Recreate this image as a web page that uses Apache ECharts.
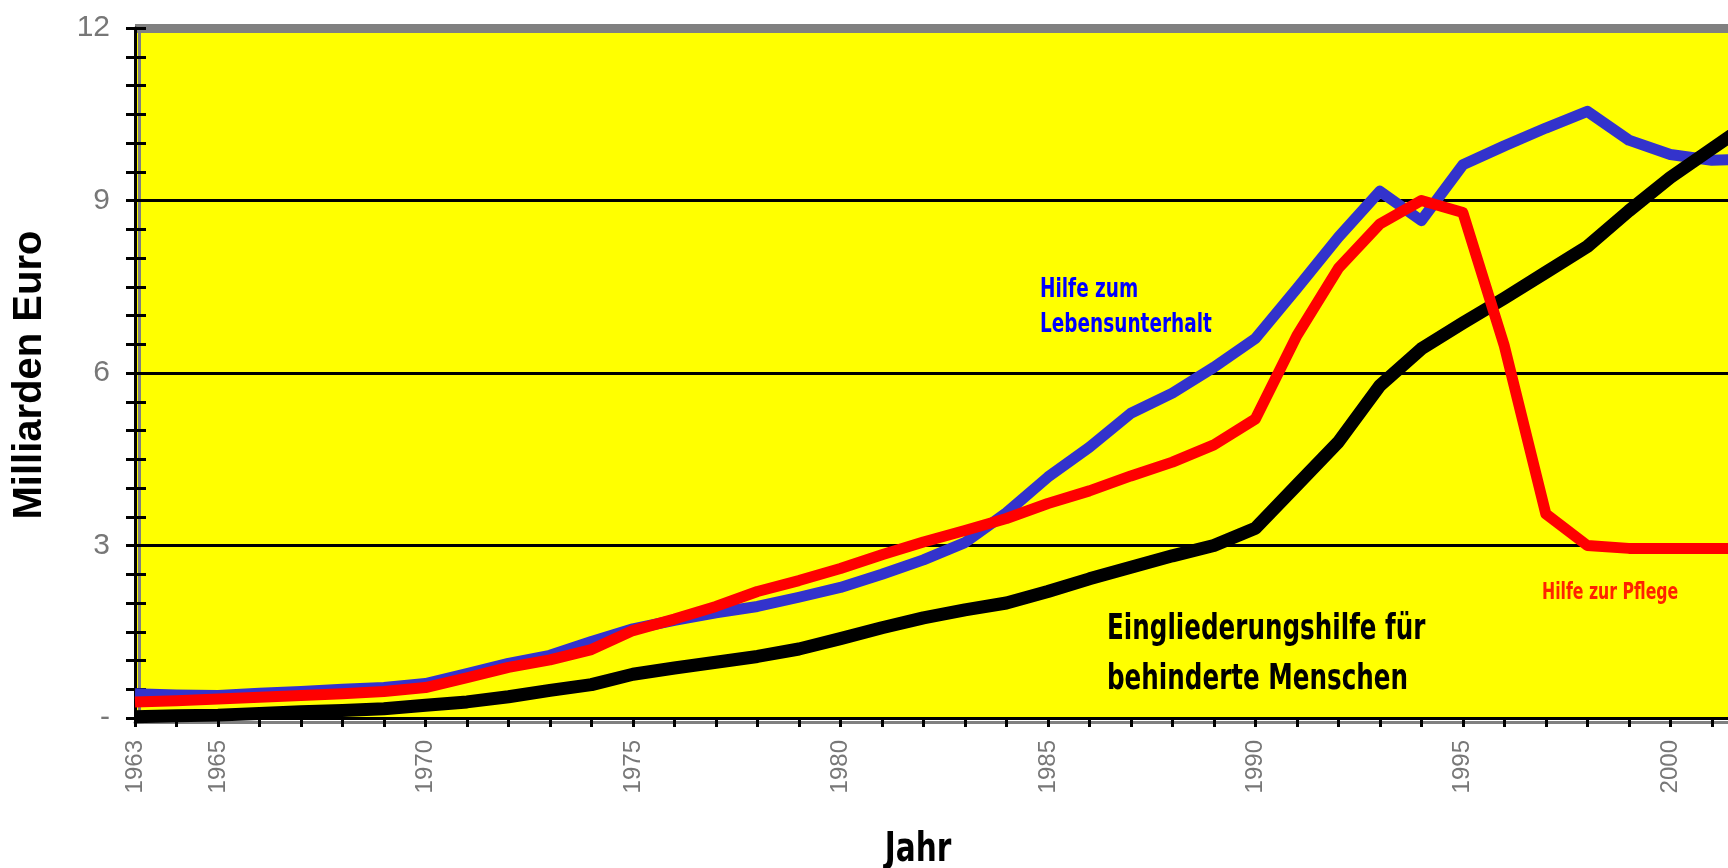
<!DOCTYPE html>
<html>
<head>
<meta charset="utf-8">
<script src="https://cdn.jsdelivr.net/npm/echarts@6/dist/echarts.min.js"></script>
<style>
  html, body { margin: 0; padding: 0; background: #fff; }
  #chart { width: 1728px; height: 868px; }
</style>
</head>
<body>
<div id="chart"></div>
<script>
// Jahre und Ausgaben (Milliarden Euro)
const years = [1963, 1964, 1965, 1966, 1967, 1968, 1969, 1970, 1971, 1972,
  1973, 1974, 1975, 1976, 1977, 1978, 1979, 1980, 1981, 1982,
  1983, 1984, 1985, 1986, 1987, 1988, 1989, 1990, 1991, 1992,
  1993, 1994, 1995, 1996, 1997, 1998, 1999, 2000, 2001, 2002];

const hilfeLebensunterhalt = [0.42, 0.40, 0.39, 0.43, 0.46, 0.50, 0.53, 0.60, 0.77, 0.95,
  1.09, 1.33, 1.55, 1.70, 1.83, 1.94, 2.10, 2.27, 2.50, 2.75,
  3.05, 3.57, 4.19, 4.71, 5.30, 5.65, 6.10, 6.60, 7.47, 8.36,
  9.16, 8.65, 9.62, 9.95, 10.26, 10.55, 10.05, 9.80, 9.70, 9.72];

const hilfePflege = [0.28, 0.30, 0.33, 0.36, 0.39, 0.42, 0.46, 0.53, 0.70, 0.88,
  1.01, 1.19, 1.52, 1.72, 1.94, 2.20, 2.39, 2.60, 2.84, 3.06,
  3.26, 3.47, 3.73, 3.95, 4.21, 4.45, 4.75, 5.20, 6.65, 7.82,
  8.59, 9.00, 8.79, 6.47, 3.55, 3.00, 2.95, 2.95, 2.95, 2.95];

const eingliederungshilfe = [0.02, 0.04, 0.05, 0.08, 0.11, 0.13, 0.16, 0.22, 0.28, 0.37,
  0.48, 0.58, 0.76, 0.87, 0.97, 1.07, 1.20, 1.38, 1.57, 1.74,
  1.88, 2.00, 2.20, 2.42, 2.62, 2.82, 3.00, 3.30, 4.05, 4.80,
  5.78, 6.42, 6.87, 7.30, 7.75, 8.20, 8.82, 9.40, 9.90, 10.40];

const yearLabels = [1963, 1965, 1970, 1975, 1980, 1985, 1990, 1995, 2000];
const yTickLabels = ['-', '3', '6', '9', '12'];

const condensed = '"DejaVu Sans Condensed", "DejaVu Sans", sans-serif';

const pairs = arr => years.map((y, i) => [y, arr[i]]);

const chart = echarts.init(document.getElementById('chart'));

// x-Achse: schwarz mit grauem Schatten darunter
const xAxis = {
  type: 'value',
  min: 1963,
  max: 2001.39,
  interval: 1,
  axisLine: {
    onZero: false,
    lineStyle: { color: '#000', width: 3, shadowColor: '#808080', shadowOffsetY: 4 }
  },
  axisTick: { length: 9, lineStyle: { color: '#000', width: 3 } },
  axisLabel: {
    rotate: 90,
    margin: 22,
    fontSize: 24,
    color: '#777',
    fontFamily: 'Liberation Sans',
    showMaxLabel: false,
    formatter: v => (yearLabels.includes(v) ? String(v) : '')
  },
  splitLine: { show: false }
};

const yAxis = [
  {
    type: 'value',
    min: 0,
    max: 12,
    interval: 3,
    axisLine: {
      show: true,
      lineStyle: { color: '#000', width: 3, shadowColor: '#808080', shadowOffsetX: 4 }
    },
    axisTick: { show: true, length: 9, lineStyle: { color: '#000', width: 3 } },
    minorTick: { show: true, splitNumber: 6, length: 9, lineStyle: { color: '#000', width: 3 } },
    splitLine: { show: true, lineStyle: { color: '#000', width: 3 } },
    axisLabel: {
      margin: 25,
      fontSize: 30,
      color: '#777',
      fontFamily: 'Liberation Sans',
      formatter: v => yTickLabels[v / 3]
    }
  },
  {
    // zweite Achse nur für die nach innen ragenden Striche und den grauen oberen Rand
    type: 'value',
    position: 'left',
    min: 0,
    max: 12,
    interval: 3,
    axisLine: { show: false },
    axisLabel: { show: false },
    axisTick: { show: true, inside: true, length: 11, lineStyle: { color: '#000', width: 3 } },
    minorTick: { show: true, splitNumber: 6, length: 11, lineStyle: { color: '#000', width: 3 } },
    splitLine: {
      show: true,
      lineStyle: {
        width: 9,
        color: ['rgba(0,0,0,0)', 'rgba(0,0,0,0)', 'rgba(0,0,0,0)', 'rgba(0,0,0,0)', '#808080']
      }
    }
  }
];

const option = {
  animation: false,
  backgroundColor: '#fff',
  grid: {
    left: 135,
    right: 0,
    top: 28,
    bottom: 150,
    show: true,
    backgroundColor: '#ffff00',
    borderWidth: 0
  },
  xAxis: xAxis,
  yAxis: yAxis,
  series: [
    {
      name: 'Hilfe zum Lebensunterhalt',
      type: 'line',
      data: pairs(hilfeLebensunterhalt),
      showSymbol: false,
      lineStyle: { color: '#3333cc', width: 11, join: 'round' }
    },
    {
      name: 'Eingliederungshilfe für behinderte Menschen',
      type: 'line',
      data: pairs(eingliederungshilfe),
      showSymbol: false,
      lineStyle: { color: '#000', width: 13, join: 'round' }
    },
    {
      name: 'Hilfe zur Pflege',
      type: 'line',
      data: pairs(hilfePflege),
      showSymbol: false,
      lineStyle: { color: '#ff0000', width: 11, join: 'round' }
    }
  ],
  graphic: [
    {
      type: 'text', x: 30, y: 375, rotation: Math.PI / 2, z: 100,
      style: {
        text: 'Milliarden Euro', fill: '#000', fontSize: 40, fontWeight: 'bold',
        fontFamily: 'Liberation Sans', align: 'center', verticalAlign: 'middle'
      }
    },
    {
      type: 'text', x: 918, y: 851, scaleX: 0.82, z: 100,
      style: {
        text: 'Jahr', fill: '#000', fontSize: 40, fontWeight: 'bold',
        fontFamily: condensed, align: 'center', verticalAlign: 'middle'
      }
    },
    {
      type: 'text', x: 1040, y: 273, scaleX: 0.79, z: 100,
      style: {
        text: 'Hilfe zum\nLebensunterhalt', fill: '#0000ff', fontSize: 26, fontWeight: 'bold',
        fontFamily: condensed, lineHeight: 35, align: 'left', verticalAlign: 'top'
      }
    },
    {
      type: 'text', x: 1107, y: 605, scaleX: 0.76, z: 100,
      style: {
        text: 'Eingliederungshilfe für\nbehinderte Menschen', fill: '#000', fontSize: 36, fontWeight: 'bold',
        fontFamily: condensed, lineHeight: 50, align: 'left', verticalAlign: 'top'
      }
    },
    {
      type: 'text', x: 1542, y: 593, scaleX: 0.76, z: 100,
      style: {
        text: 'Hilfe zur Pflege', fill: '#ff2200', fontSize: 23, fontWeight: 'bold',
        fontFamily: condensed, align: 'left', verticalAlign: 'middle'
      }
    }
  ]
};

chart.setOption(option);
</script>
</body>
</html>
